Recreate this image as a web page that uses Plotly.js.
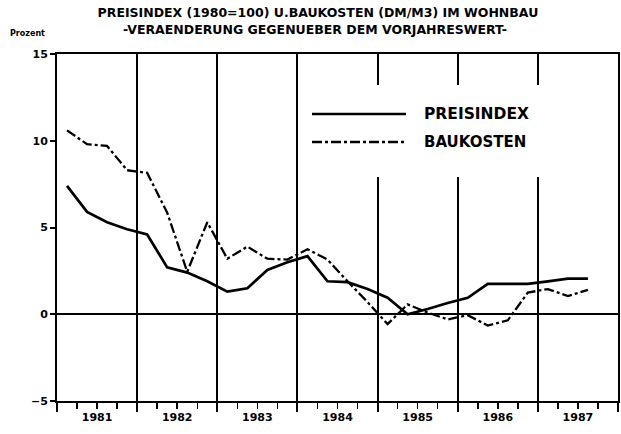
<!DOCTYPE html>
<html>
<head>
<meta charset="utf-8">
<script src="https://cdn.plot.ly/plotly-3.0.1.min.js"></script>
<style>html,body{margin:0;padding:0;background:#fff;}#chart{width:621px;height:434px;}</style>
</head>
<body>
<div id="chart"></div>
<script>
// Quarter midpoints 1981 Q1 .. 1987 Q3
var quarters = [1981.125, 1981.375, 1981.625, 1981.875,
                1982.125, 1982.375, 1982.625, 1982.875,
                1983.125, 1983.375, 1983.625, 1983.875,
                1984.125, 1984.375, 1984.625, 1984.875,
                1985.125, 1985.375, 1985.625, 1985.875,
                1986.125, 1986.375, 1986.625, 1986.875,
                1987.125, 1987.375, 1987.625];
var preisindex = [7.4, 5.9, 5.3, 4.9,
                  4.6, 2.7, 2.4, 1.9,
                  1.3, 1.5, 2.55, 3.0,
                  3.35, 1.9, 1.85, 1.45,
                  0.95, 0.0, 0.3, 0.65,
                  0.95, 1.75, 1.75, 1.75,
                  1.9, 2.05, 2.05];
var baukosten = [10.6, 9.8, 9.7, 8.3,
                 8.15, 5.85, 2.45, 5.3,
                 3.2, 3.9, 3.2, 3.15,
                 3.75, 3.15, 1.9, 0.7,
                 -0.57, 0.57, 0.1, -0.3,
                 -0.05, -0.65, -0.35, 1.25,
                 1.45, 1.05, 1.4];
var yearLabelPos = [1981.5, 1982.5, 1983.5, 1984.5, 1985.5, 1986.5, 1987.5];
var yearLabels = ['1981', '1982', '1983', '1984', '1985', '1986', '1987'];
var yTicks = [-5, 0, 5, 10, 15];
var seriesNames = ['PREISINDEX', 'BAUKOSTEN'];
var titleLine1 = 'PREISINDEX (1980=100) U.BAUKOSTEN (DM/M3) IM WOHNBAU';
var titleLine2 = '-VERAENDERUNG GEGENUEBER DEM VORJAHRESWERT-';
var yUnit = 'Prozent';

var FF = 'DejaVu Sans';
var traces = [
  {x: quarters, y: preisindex, name: seriesNames[0], type: 'scatter', mode: 'lines',
   line: {color: '#000', width: 2.7}, xaxis: 'x', yaxis: 'y'},
  {x: quarters, y: baukosten, name: seriesNames[1], type: 'scatter', mode: 'lines',
   line: {color: '#000', width: 2.3, dash: '10px,3px,3px,3px'}, xaxis: 'x2', yaxis: 'y'}
];

function px(v){ return (v - 57) / 561; }
function py(v){ return (401 - v) / 347; }

var layout = {
  width: 621, height: 434,
  margin: {l: 57, r: 3, t: 54, b: 33, pad: 0},
  paper_bgcolor: '#fff', plot_bgcolor: '#fff',
  showlegend: false,
  font: {family: FF, color: '#000'},
  title: {text: titleLine1, x: 0.512, xanchor: 'center', y: 1 - 12.5/434, yanchor: 'middle',
          font: {family: FF, size: 12.5, weight: 'bold', color: '#000'}},
  xaxis: {
    range: [1981, 1988], tickmode: 'linear', tick0: 1981, dtick: 1,
    ticks: 'outside', ticklen: 9, tickwidth: 2, tickcolor: '#000',
    showticklabels: false,
    showgrid: true, gridcolor: '#000', gridwidth: 2,
    showline: true, linecolor: '#000', linewidth: 2, mirror: true,
    zeroline: false,
    minor: {tickmode: 'linear', tick0: 1981, dtick: 0.25, ticks: 'outside', ticklen: 6,
            tickwidth: 1.5, tickcolor: '#000', showgrid: false}
  },
  xaxis2: {
    overlaying: 'x', anchor: 'y', side: 'bottom', matches: 'x',
    range: [1981, 1988], tickmode: 'array', tickvals: yearLabelPos, ticktext: yearLabels,
    ticks: 'outside', ticklen: 6, tickcolor: 'rgba(0,0,0,0)',
    tickfont: {family: FF, size: 11, weight: 'bold', color: '#000'},
    showgrid: false, showline: false, zeroline: false
  },
  yaxis: {
    range: [-5, 15], tickmode: 'array', tickvals: yTicks,
    ticks: 'outside', ticklen: 5, tickwidth: 2, tickcolor: '#000',
    tickfont: {family: FF, size: 11, weight: 'bold', color: '#000'},
    showgrid: false,
    zeroline: true, zerolinecolor: '#000', zerolinewidth: 2,
    showline: true, linecolor: '#000', linewidth: 2, mirror: true
  },
  shapes: [
    {type: 'rect', xref: 'paper', yref: 'paper', x0: px(303), x1: px(612), y0: py(177), y1: py(85),
     fillcolor: '#fff', line: {width: 0}, layer: 'above'},
    {type: 'line', xref: 'paper', yref: 'paper', x0: px(312), x1: px(406), y0: py(114), y1: py(114),
     line: {color: '#000', width: 2.7}, layer: 'above'},
    {type: 'line', xref: 'paper', yref: 'paper', x0: px(312), x1: px(406), y0: py(142), y1: py(142),
     line: {color: '#000', width: 2.3, dash: '10px,3px,3px,3px'}, layer: 'above'}
  ],
  annotations: [
    {text: titleLine2, xref: 'paper', yref: 'paper', x: px(315), y: py(29.5), xanchor: 'center', yanchor: 'middle',
     showarrow: false, font: {family: FF, size: 12.5, weight: 'bold', color: '#000'}},
    {text: yUnit, xref: 'paper', yref: 'paper', x: px(8), y: py(33), xanchor: 'left', yanchor: 'middle',
     showarrow: false, font: {family: FF, size: 8, weight: 'bold', color: '#000'}},
    {text: seriesNames[0], xref: 'paper', yref: 'paper', x: px(422), y: py(114), xanchor: 'left', yanchor: 'middle',
     showarrow: false, font: {family: FF, size: 15.5, weight: 'bold', color: '#000'}},
    {text: seriesNames[1], xref: 'paper', yref: 'paper', x: px(422), y: py(142), xanchor: 'left', yanchor: 'middle',
     showarrow: false, font: {family: FF, size: 15, weight: 'bold', color: '#000'}}
  ]
};

Plotly.newPlot('chart', traces, layout, {staticPlot: true, displayModeBar: false});
</script>
</body>
</html>
